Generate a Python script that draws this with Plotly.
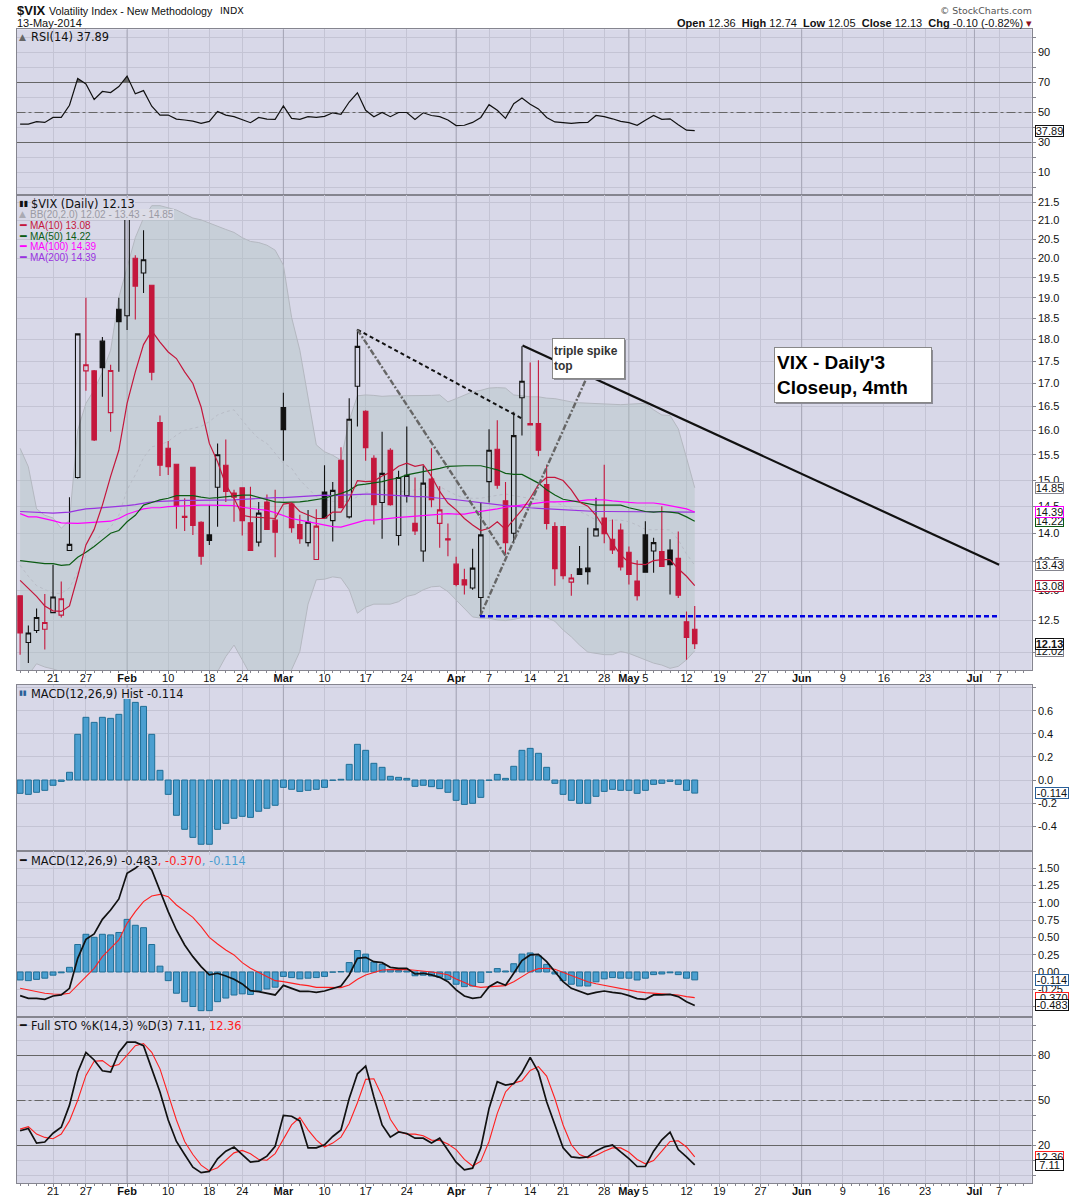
import math

import plotly.graph_objects as go

# Trading days Jan 14 2014 .. May 13 2014 are bars 0..82, later bars are empty chart space
x_ticks = [4, 8, 13, 18, 23, 27, 32, 37, 42, 47, 53, 57, 62, 66, 71, 74, 76, 81,
           85, 90, 95, 100, 105, 110, 115, 116, 119]
x_labels = ["21", "27", "<b>Feb</b>", "10", "18", "24", "<b>Mar</b>", "10", "17", "24",
            "<b>Apr</b>", "7", "14", "21", "28", "<b>May</b>", "5", "12",
            "19", "27", "<b>Jun</b>", "9", "16", "23", "", "<b>Jul</b>", "7"]
month_ticks = [13, 32, 53, 74, 95, 116]

opens = [12.91, 12.15, 12.34, 12.36, 12.63, 12.59, 13.69, 15.05, 17.28, 17.28,
         17.96, 16.37, 18.72, 18.56, 20.00, 19.62, 19.31, 16.16, 15.63, 15.31,
         14.31, 15.25, 14.20, 13.97, 14.86, 15.29, 14.75, 14.85, 14.19, 13.84,
         14.58, 14.24, 16.48, 14.54, 14.16, 13.83, 13.53, 14.77, 14.23, 15.39,
         14.30, 16.94, 16.40, 15.43, 14.57, 15.59, 13.96, 14.70, 14.18, 13.68,
         15.02, 14.18, 13.90, 13.45, 13.18, 13.04, 12.88, 14.97, 15.61, 14.60,
         14.00, 16.69, 16.14, 16.14, 14.91, 14.12, 14.12, 13.14, 13.37, 13.38,
         13.95, 14.28, 13.89, 14.06, 13.66, 13.16, 13.97, 13.68, 13.67, 13.70,
         13.55, 12.48, 12.36]
highs = [12.91, 12.42, 12.70, 12.94, 13.44, 13.15, 14.67, 18.13, 19.00, 17.30,
         18.06, 17.42, 19.00, 21.48, 20.08, 20.74, 19.31, 16.31, 15.78, 15.31,
         14.65, 15.25, 14.22, 14.52, 15.73, 15.81, 14.81, 14.85, 14.87, 14.58,
         14.72, 14.81, 16.80, 14.56, 14.34, 14.43, 14.44, 15.29, 14.96, 15.65,
         16.68, 18.24, 16.42, 15.49, 15.97, 15.63, 15.18, 16.08, 15.05, 15.28,
         15.63, 14.88, 14.18, 13.58, 13.37, 13.72, 14.57, 16.02, 16.21, 14.96,
         16.39, 17.84, 17.47, 17.52, 15.30, 14.20, 14.12, 13.28, 13.77, 14.10,
         14.66, 15.30, 14.25, 14.18, 13.76, 13.52, 14.22, 13.92, 14.50, 13.89,
         14.03, 12.65, 12.74]
lows = [11.96, 11.83, 12.30, 12.04, 12.63, 12.55, 13.69, 15.03, 16.84, 15.78,
        16.71, 15.97, 17.26, 18.22, 18.47, 19.12, 17.07, 15.08, 15.10, 14.08,
        14.04, 13.97, 13.44, 13.79, 14.12, 14.58, 14.21, 13.96, 13.69, 13.76,
        14.07, 13.57, 15.38, 14.01, 13.81, 13.76, 13.53, 14.28, 13.85, 14.47,
        14.27, 16.08, 15.38, 14.16, 13.90, 14.51, 13.78, 14.57, 13.97, 13.49,
        14.48, 13.74, 13.59, 13.07, 12.93, 13.01, 12.61, 14.57, 14.83, 13.61,
        13.82, 15.89, 16.11, 15.47, 14.07, 13.08, 13.19, 12.91, 13.27, 13.10,
        13.94, 13.82, 13.63, 13.34, 13.10, 12.83, 13.31, 13.30, 13.40, 12.93,
        12.87, 11.88, 12.05]
closes = [12.30, 12.30, 12.55, 12.47, 12.89, 12.86, 13.80, 18.13, 17.42, 15.80,
          17.35, 17.29, 18.42, 21.44, 19.29, 19.96, 17.25, 15.29, 15.26, 14.50,
          14.29, 14.14, 13.59, 13.87, 15.50, 14.78, 14.67, 14.23, 13.69, 14.37,
          14.07, 14.02, 16.01, 14.10, 13.90, 14.20, 14.13, 14.28, 14.80, 14.47,
          16.23, 17.84, 15.64, 14.53, 15.13, 14.53, 15.05, 15.09, 14.04, 14.94,
          14.62, 14.43, 13.88, 13.10, 13.09, 13.38, 13.97, 15.59, 14.90, 13.83,
          15.89, 17.05, 16.11, 15.59, 14.18, 13.37, 13.25, 13.21, 13.27, 13.32,
          14.08, 13.99, 13.70, 13.40, 13.27, 12.91, 13.31, 13.83, 13.41, 13.44,
          12.92, 12.23, 12.13]

ma10 = [13.17, 13.04, 12.90, 12.74, 12.66, 12.65, 12.74, 13.24, 13.79, 14.07,
        14.52, 15.07, 15.59, 16.57, 17.26, 17.88, 18.20, 17.94, 17.71, 17.56,
        17.26, 17.00, 16.49, 15.73, 15.36, 14.91, 14.65, 14.33, 14.30, 14.29,
        14.28, 14.27, 14.54, 14.56, 14.40, 14.33, 14.27, 14.27, 14.39, 14.39,
        14.63, 14.99, 14.97, 14.98, 15.08, 15.15, 15.27, 15.33, 15.27, 15.30,
        15.07, 14.78, 14.56, 14.43, 14.27, 14.15, 14.05, 14.09, 14.21, 14.07,
        14.24, 14.43, 14.65, 14.91, 15.05, 15.05, 14.99, 14.81, 14.58, 14.50,
        14.33, 14.09, 13.82, 13.61, 13.48, 13.45, 13.44, 13.51, 13.53, 13.53,
        13.37, 13.24, 13.08]
ma50 = [13.51, 13.49, 13.47, 13.46, 13.46, 13.43, 13.44, 13.57, 13.66, 13.76,
        13.88, 14.00, 14.05, 14.21, 14.33, 14.52, 14.57, 14.62, 14.65, 14.70,
        14.70, 14.70, 14.67, 14.65, 14.66, 14.68, 14.70, 14.71, 14.71, 14.67,
        14.63, 14.58, 14.57, 14.57, 14.58, 14.60, 14.62, 14.65, 14.70, 14.74,
        14.80, 14.90, 14.92, 14.94, 14.97, 15.01, 15.04, 15.10, 15.13, 15.16,
        15.20, 15.23, 15.27, 15.28, 15.28, 15.28, 15.28, 15.24, 15.20, 15.13,
        15.11, 15.11, 15.03, 14.94, 14.81, 14.71, 14.63, 14.60, 14.57, 14.54,
        14.52, 14.52, 14.52, 14.52, 14.47, 14.43, 14.40, 14.39, 14.40, 14.39,
        14.37, 14.30, 14.22]
ma100 = [14.36, 14.30, 14.30, 14.27, 14.23, 14.19, 14.18, 14.18, 14.19, 14.20,
         14.20, 14.22, 14.27, 14.35, 14.40, 14.45, 14.47, 14.47, 14.49, 14.50,
         14.50, 14.51, 14.52, 14.52, 14.52, 14.52, 14.51, 14.48, 14.46, 14.43,
         14.42, 14.38, 14.33, 14.27, 14.24, 14.21, 14.19, 14.16, 14.12, 14.11,
         14.15, 14.20, 14.24, 14.24, 14.26, 14.27, 14.29, 14.30, 14.31, 14.33,
         14.34, 14.35, 14.36, 14.35, 14.35, 14.38, 14.40, 14.42, 14.45, 14.48,
         14.50, 14.52, 14.54, 14.56, 14.58, 14.58, 14.58, 14.59, 14.60, 14.62,
         14.62, 14.62, 14.60, 14.58, 14.57, 14.56, 14.56, 14.56, 14.54, 14.51,
         14.48, 14.45, 14.39]
ma200 = [14.40, 14.39, 14.38, 14.37, 14.37, 14.38, 14.39, 14.42, 14.45, 14.46,
         14.47, 14.48, 14.50, 14.51, 14.53, 14.56, 14.58, 14.59, 14.60, 14.60,
         14.61, 14.61, 14.61, 14.61, 14.62, 14.62, 14.62, 14.63, 14.64, 14.65,
         14.66, 14.66, 14.66, 14.67, 14.68, 14.69, 14.70, 14.71, 14.70, 14.71,
         14.72, 14.72, 14.73, 14.73, 14.72, 14.70, 14.70, 14.69, 14.68, 14.68,
         14.66, 14.65, 14.64, 14.62, 14.60, 14.59, 14.57, 14.54, 14.52, 14.51,
         14.50, 14.48, 14.47, 14.46, 14.45, 14.45, 14.43, 14.42, 14.41, 14.41,
         14.40, 14.40, 14.40, 14.40, 14.40, 14.40, 14.40, 14.40, 14.40, 14.40,
         14.40, 14.39, 14.39]

bb_upper = [15.63, 15.26, 14.45, 14.33, 14.28, 14.09, 14.24, 16.00, 16.57, 16.86,
            17.25, 17.75, 19.01, 19.79, 20.54, 21.07, 21.41, 21.41, 21.35, 21.29,
            21.18, 21.07, 21.02, 20.94, 20.86, 20.76, 20.68, 20.54, 20.44, 20.41,
            20.34, 20.21, 19.82, 18.52, 17.75, 16.71, 15.70, 15.56, 15.49, 15.39,
            16.21, 16.73, 16.75, 16.74, 16.72, 16.73, 16.73, 16.74, 16.74, 16.74,
            16.74, 16.75, 16.60, 16.67, 16.74, 16.82, 16.85, 16.90, 16.91, 16.90,
            16.75, 16.73, 16.71, 16.71, 16.68, 16.67, 16.63, 16.60, 16.58, 16.57,
            16.56, 16.55, 16.55, 16.54, 16.55, 16.56, 16.57, 16.43, 16.32, 16.31,
            16.03, 15.44, 14.85]
bb_mid = [13.43, 13.24, 13.08, 13.01, 12.95, 12.95, 13.04, 13.32, 13.60, 13.82,
          14.00, 14.11, 14.33, 14.81, 15.10, 15.44, 15.66, 15.70, 15.77, 15.90,
          16.00, 16.04, 16.08, 16.18, 16.32, 16.39, 16.43, 16.21, 16.00, 15.83,
          15.73, 15.53, 15.33, 15.23, 15.00, 14.84, 14.68, 14.62, 14.59, 14.59,
          14.59, 14.68, 14.76, 14.78, 14.81, 14.80, 14.78, 14.78, 14.81, 14.84,
          14.89, 14.87, 14.79, 14.71, 14.65, 14.65, 14.65, 14.68, 14.71, 14.73,
          14.70, 14.67, 14.65, 14.62, 14.59, 14.57, 14.52, 14.46, 14.40, 14.33,
          14.24, 14.21, 14.24, 14.24, 14.21, 14.15, 14.07, 14.06, 14.07, 14.06,
          13.88, 13.63, 13.43]
# the lower band leaves the panel for much of Jan-Mar, values down there are estimates
bb_lower = [11.60, 11.65, 11.82, 11.77, 11.74, 11.70, 11.55, 11.20, 11.00, 10.90,
            10.80, 10.60, 10.30, 10.00, 9.90, 9.80, 9.80, 9.80, 9.90, 10.00,
            10.20, 10.50, 10.90, 11.30, 11.70, 11.93, 12.11, 11.88, 11.65, 11.50,
            11.40, 11.30, 11.40, 11.73, 12.01, 12.77, 13.18, 13.19, 13.23, 13.21,
            13.01, 12.62, 12.72, 12.77, 12.77, 12.77, 12.81, 12.90, 12.93, 13.01,
            13.06, 13.07, 12.98, 12.84, 12.70, 12.56, 12.54, 12.54, 12.51, 12.50,
            12.52, 12.55, 12.56, 12.57, 12.55, 12.49, 12.35, 12.24, 12.11, 12.00,
            11.98, 11.96, 11.96, 12.01, 11.98, 11.93, 11.88, 11.83, 11.80, 11.75,
            11.78, 11.88, 12.02]

rsi = [42.3, 42.3, 43.9, 43.4, 46.7, 46.7, 54.8, 72.7, 69.0, 58.7,
       64.0, 63.3, 67.3, 74.3, 62.5, 64.6, 54.2, 48.3, 48.3, 45.6,
       45.0, 44.3, 42.8, 44.1, 50.7, 48.3, 47.2, 45.4, 43.2, 46.7,
       45.6, 45.4, 54.4, 46.1, 45.4, 47.2, 46.7, 47.4, 49.8, 48.7,
       57.0, 63.1, 51.5, 47.2, 50.0, 47.2, 50.0, 50.0, 45.4, 49.8,
       48.0, 47.2, 45.0, 41.3, 41.5, 43.4, 46.7, 55.2, 51.5, 46.1,
       55.9, 59.6, 55.5, 52.4, 46.7, 43.7, 43.4, 42.8, 43.2, 43.4,
       48.0, 47.2, 45.8, 44.1, 43.2, 41.5, 44.8, 48.0, 45.4, 45.8,
       41.9, 38.2, 37.89]

macd_hist = [-0.116, -0.125, -0.107, -0.090, -0.046, -0.012, 0.067, 0.397, 0.545, 0.501,
             0.545, 0.536, 0.571, 0.760, 0.675, 0.640, 0.397, 0.084, -0.125, -0.307,
             -0.429, -0.499, -0.559, -0.559, -0.429, -0.377, -0.333, -0.316, -0.325, -0.272,
             -0.246, -0.220, -0.064, -0.081, -0.099, -0.090, -0.081, -0.064, -0.003, 0.006,
             0.136, 0.310, 0.258, 0.145, 0.110, 0.032, 0.023, 0.014, -0.055, -0.046,
             -0.058, -0.075, -0.107, -0.177, -0.212, -0.203, -0.151, -0.003, 0.049, 0.014,
             0.119, 0.258, 0.275, 0.232, 0.110, -0.029, -0.125, -0.177, -0.203, -0.203,
             -0.142, -0.099, -0.081, -0.090, -0.090, -0.116, -0.090, -0.038, -0.029, -0.012,
             -0.038, -0.090, -0.114]
macd_line = [-0.342, -0.381, -0.381, -0.395, -0.347, -0.332, -0.236, 0.197, 0.472, 0.549,
             0.761, 0.896, 1.055, 1.426, 1.498, 1.600, 1.474, 1.161, 0.872, 0.607,
             0.390, 0.222, 0.077, -0.043, -0.019, -0.058, -0.106, -0.173, -0.270, -0.284,
             -0.308, -0.332, -0.193, -0.236, -0.279, -0.279, -0.294, -0.275, -0.236, -0.202,
             -0.043, 0.197, 0.212, 0.149, 0.135, 0.067, 0.053, 0.053, -0.029, -0.019,
             -0.043, -0.077, -0.140, -0.260, -0.347, -0.381, -0.366, -0.212, -0.145, -0.193,
             -0.019, 0.164, 0.246, 0.255, 0.149, 0.005, -0.140, -0.236, -0.284, -0.323,
             -0.294, -0.275, -0.294, -0.308, -0.342, -0.385, -0.395, -0.332, -0.332, -0.323,
             -0.356, -0.429, -0.483]
macd_signal = [-0.236, -0.260, -0.284, -0.308, -0.318, -0.323, -0.308, -0.188, -0.067, 0.053,
               0.222, 0.342, 0.462, 0.703, 0.872, 1.016, 1.098, 1.122, 1.089, 0.968,
               0.872, 0.790, 0.655, 0.501, 0.405, 0.318, 0.246, 0.135, 0.053, -0.010,
               -0.067, -0.125, -0.140, -0.164, -0.183, -0.197, -0.222, -0.222, -0.226, -0.226,
               -0.188, -0.106, -0.043, -0.010, 0.029, 0.034, 0.039, 0.034, 0.024, 0.014,
               0.000, -0.019, -0.039, -0.101, -0.154, -0.202, -0.222, -0.212, -0.202, -0.197,
               -0.140, -0.067, 0.005, 0.048, 0.053, 0.039, -0.005, -0.058, -0.101, -0.140,
               -0.169, -0.193, -0.217, -0.241, -0.260, -0.284, -0.299, -0.308, -0.318, -0.323,
               -0.332, -0.356, -0.370]

sto_k = [29.8, 31.3, 21.6, 22.3, 28.2, 32.2, 46.9, 68.9, 82.1, 77.0,
         69.8, 68.9, 82.1, 88.9, 88.9, 86.5, 71.1, 55.7, 37.0, 22.7,
         14.0, 5.6, 1.9, 2.7, 11.1, 16.2, 19.0, 14.0, 8.9, 9.6,
         12.9, 19.5, 40.1, 39.5, 36.4, 18.4, 18.4, 20.5, 26.0, 30.4,
         51.3, 67.8, 72.9, 52.4, 33.7, 25.6, 29.0, 28.0, 24.9, 24.9,
         21.6, 24.9, 17.3, 8.9, 3.8, 4.9, 18.4, 44.7, 62.5, 60.3,
         61.2, 68.5, 78.8, 68.9, 49.1, 33.7, 18.4, 12.4, 11.8, 12.4,
         16.4, 19.0, 20.3, 15.7, 11.3, 6.0, 6.0, 16.2, 23.8, 28.9,
         17.3, 12.4, 7.11]
sto_d = [30.9, 32.6, 27.6, 25.4, 24.5, 27.6, 36.4, 50.2, 66.7, 76.2,
         76.6, 72.6, 74.0, 79.9, 86.5, 88.0, 82.1, 71.1, 54.6, 37.0,
         22.7, 14.0, 6.9, 3.0, 5.2, 10.2, 15.1, 16.7, 14.5, 10.7,
         10.2, 14.6, 24.3, 33.7, 38.8, 30.4, 23.8, 19.0, 21.6, 25.6,
         34.8, 48.5, 64.1, 64.5, 52.9, 37.5, 29.3, 27.6, 27.6, 26.5,
         23.6, 23.4, 21.0, 17.3, 10.7, 6.3, 9.6, 22.7, 41.4, 55.7,
         61.6, 63.2, 70.0, 72.6, 66.3, 51.3, 33.7, 20.5, 14.0, 11.8,
         13.3, 16.2, 18.4, 18.4, 15.5, 10.7, 7.8, 10.0, 16.2, 22.7,
         23.2, 19.0, 12.36]

# hand drawn annotations on the price panel: (bar, value)
downtrend_dashed = [(41, 18.23), (61.07, 16.24)]
abc_down = [(41, 18.23), (59, 13.60)]
abc_up = [(55.9, 12.57), (69.04, 17.20)]
resistance = [(61.07, 17.86), (119, 13.44)]
support = [(55.9, 12.57), (119, 12.57)]

BG = "#d8d8e8"
GRID = "#c4c4d4"
MONTH_GRID = "#a6a6b6"
BORDER = "#85858f"
CANDLE_RED = "#c4173c"
BAR_BLUE = "#4b9fd0"
BAR_EDGE = "#1f6e96"
TICK_FONT = dict(family="Liberation Sans", size=11, color="#111111")

W, H = 1075, 1200
LEFT, RIGHT = 16.5, 1031.7
X_RANGE = [-0.44, 122.96]
PRICE_RANGE = [11.72, 21.70]
bars = list(range(len(closes)))


def px(x):
    return x / W


def py(y):
    return 1 - y / H


def pair(points):
    return [p[0] for p in points], [p[1] for p in points]


def above_level(values, level):
    # x,y of the part of a line above a level, with the crossing points added
    xs, ys = [], []
    for i, v in enumerate(values):
        if i > 0 and (values[i - 1] - level) * (v - level) < 0:
            xs.append(i - 1 + (level - values[i - 1]) / (v - values[i - 1]))
            ys.append(level)
        xs.append(i)
        ys.append(max(v, level))
    return xs, ys


fig = go.Figure()

# axis names per panel: rsi, price, hist, macd, sto
panels = {
    "rsi": dict(n="", top=29.3, bottom=195.3, rng=[-5.2, 105.47]),
    "price": dict(n="2", top=195.3, bottom=670.3, rng=[math.log10(PRICE_RANGE[0]), math.log10(PRICE_RANGE[1])]),
    "hist": dict(n="3", top=685.0, bottom=851.3, rng=[-0.62, 0.826]),
    "macd": dict(n="4", top=851.3, bottom=1017.3, rng=[-0.655, 1.744]),
    "sto": dict(n="5", top=1017.3, bottom=1183.3, rng=[-5.2, 105.47]),
}
y_ticks = {
    "rsi": ([10, 20, 30, 40, 50, 60, 70, 80, 90, 0, 100],
            ["10", "", "30", "", "50", "", "70", "", "90", "", ""]),
    "price": ([12 + 0.5 * k for k in range(20)], ["%.1f" % (12 + 0.5 * k) for k in range(20)]),
    "hist": ([-0.4, -0.2, 0, 0.2, 0.4, 0.6, 0.8], ["-0.4", "-0.2", "0.0", "0.2", "0.4", "0.6", ""]),
    "macd": ([-0.5, -0.25, 0, 0.25, 0.5, 0.75, 1, 1.25, 1.5],
             ["", "-0.25", "0.00", "0.25", "0.50", "0.75", "1.00", "1.25", "1.50"]),
    "sto": ([0, 10, 20, 30, 40, 50, 60, 70, 80, 90, 100],
            ["", "", "20", "", "", "50", "", "", "80", "", ""]),
}
layout_axes = {}
for name, p in panels.items():
    n = p["n"]
    labelled = name in ("price", "sto")
    axis_x = dict(
        domain=[px(LEFT), px(RIGHT)], range=X_RANGE, anchor="y" + n, tickmode="array",
        tickvals=x_ticks, ticktext=x_labels if labelled else [""] * len(x_ticks),
        showgrid=True, gridcolor=GRID, gridwidth=1, zeroline=False,
        showline=True, linecolor=BORDER, linewidth=1, mirror=True,
        ticks="outside" if labelled else "", ticklen=3, tickcolor=BORDER,
        tickfont=dict(family="Liberation Sans", size=11, color="#111111"), tickangle=0,
        ticklabelstandoff=-6 if labelled else 0, rangeslider=dict(visible=False),
    )
    if labelled:
        axis_x["minor"] = dict(tickmode="array", tickvals=list(range(0, 123)), ticks="outside",
                               ticklen=2, tickcolor=BORDER, showgrid=False)
    tv, tt = y_ticks[name]
    axis_y = dict(
        domain=[py(p["bottom"]), py(p["top"])], range=p["rng"], anchor="x" + n, side="right",
        type="log" if name == "price" else "linear", tickmode="array", tickvals=tv, ticktext=tt,
        showgrid=True, gridcolor=GRID, gridwidth=1, zeroline=False,
        showline=True, linecolor=BORDER, linewidth=1, mirror=True,
        ticks="outside", ticklen=3, tickcolor=BORDER, tickfont=TICK_FONT,
    )
    layout_axes["xaxis" + n] = axis_x
    layout_axes["yaxis" + n] = axis_y

# candles and lines sit on an overlay of the price axis so that they draw over the band fill
layout_axes["yaxis6"] = dict(
    domain=layout_axes["yaxis2"]["domain"], range=panels["price"]["rng"], type="log",
    overlaying="y2", anchor="x2", side="right", visible=False, showgrid=False,
)
fig.update_layout(**layout_axes)


def line(x, y, xa, ya, color, width=1, dash=None):
    fig.add_trace(go.Scatter(x=x, y=y, mode="lines", xaxis=xa, yaxis=ya, showlegend=False,
                             hoverinfo="skip", line=dict(color=color, width=width, dash=dash)))


# RSI
zone_x, zone_y = above_level(rsi, 70)
line(zone_x, [70] * len(zone_x), "x", "y", "rgba(0,0,0,0)")
fig.add_trace(go.Scatter(x=zone_x, y=zone_y, mode="none", fill="tonexty", fillcolor="#666666",
                         xaxis="x", yaxis="y", showlegend=False, hoverinfo="skip"))
line(bars, rsi, "x", "y", "#111111", 1.2)

# Bollinger band on the base price axis
line(bars, bb_upper, "x2", "y2", "#b4b8c0")
fig.add_trace(go.Scatter(x=bars, y=bb_lower, mode="lines", fill="tonexty",
                         fillcolor="rgba(176,196,192,0.4)", line=dict(color="#b4b8c0", width=1),
                         xaxis="x2", yaxis="y2", showlegend=False, hoverinfo="skip"))
line(bars, bb_mid, "x2", "y2", "#b8bcc6", 1, "dot")

# candles: hollow when close is above open, red when close is below the prior close
styles = {}
for i in bars:
    hollow = closes[i] >= opens[i]
    red = i == 0 or closes[i] < closes[i - 1]
    styles.setdefault((hollow, red), []).append(i)
for (hollow, red), members in styles.items():
    color = CANDLE_RED if red else "#111111"
    side = dict(line=dict(color=color, width=1.1), fillcolor="rgba(0,0,0,0)" if hollow else color)
    fig.add_trace(go.Candlestick(
        x=bars, xaxis="x2", yaxis="y6", showlegend=False, hoverinfo="skip",
        open=[opens[i] if i in members else None for i in bars],
        high=[highs[i] if i in members else None for i in bars],
        low=[lows[i] if i in members else None for i in bars],
        close=[closes[i] if i in members else None for i in bars],
        increasing=side, decreasing=side, whiskerwidth=0,
    ))

line(bars, ma200, "x2", "y6", "#9932e0", 1.2)
line(bars, ma100, "x2", "y6", "#ff00ff", 1.2)
line(bars, ma50, "x2", "y6", "#0c5c14", 1.2)
line(bars, ma10, "x2", "y6", CANDLE_RED, 1.2)

line(*pair(downtrend_dashed), "x2", "y6", "#111111", 2, "4px,3px")
line(*pair(abc_down), "x2", "y6", "#666666", 2.4, "6px,2px,2px,2px")
line(*pair(abc_up), "x2", "y6", "#666666", 2.4, "6px,2px,2px,2px")
line(*pair(resistance), "x2", "y6", "#111111", 2.2)
line(*pair(support), "x2", "y6", "#0000e0", 2.6, "5px,3px")

# MACD histogram panels
for xa, ya in (("x3", "y3"), ("x4", "y4")):
    fig.add_trace(go.Bar(x=bars, y=macd_hist, xaxis=xa, yaxis=ya, showlegend=False, hoverinfo="skip",
                         marker=dict(color=BAR_BLUE, line=dict(color=BAR_EDGE, width=1))))
line(bars, macd_signal, "x4", "y4", "#ff2020", 1.1)
line(bars, macd_line, "x4", "y4", "#111111", 1.7)

# Stochastics
line(bars, sto_d, "x5", "y5", "#ff2020", 1.1)
line(bars, sto_k, "x5", "y5", "#111111", 1.7)

# month grid lines and reference levels, between the axis grid and the traces
shapes = []
for name, p in panels.items():
    y0, y1 = PRICE_RANGE if name == "price" else p["rng"]
    for m in month_ticks:
        shapes.append(dict(type="line", xref="x" + p["n"], yref="y" + p["n"], x0=m, x1=m, y0=y0, y1=y1,
                           layer="between", line=dict(color=MONTH_GRID, width=1)))
for n, level, style in (("", 70, "solid"), ("", 30, "solid"), ("", 50, "dashdot"),
                        ("5", 80, "solid"), ("5", 20, "solid"), ("5", 50, "dashdot")):
    shapes.append(dict(type="line", xref="x" + n, yref="y" + n, x0=X_RANGE[0], x1=X_RANGE[1],
                       y0=level, y1=level, layer="between",
                       line=dict(color="#666666", width=1, dash=style)))

# drop shadows of the two note boxes
for x0, y0, x1, y1 in ((554, 340, 626, 380), (776, 350, 933, 404)):
    shapes.append(dict(type="rect", xref="paper", yref="paper", x0=px(x0), x1=px(x1), y0=py(y1), y1=py(y0),
                       fillcolor="#8c8c96", line=dict(width=0), layer="above"))

annotations = []


def text(x, y, s, size=11, family="Liberation Sans", color="#111111", anchor="left", bg=None):
    annotations.append(dict(x=px(x), y=py(y), xref="paper", yref="paper", text=s, showarrow=False,
                            xanchor=anchor, yanchor="middle", align=anchor, borderpad=0, borderwidth=0,
                            bgcolor=bg, height=11 if bg else None,
                            font=dict(family=family, size=size, color=color)))


def tag(panel, value, label, color, width=27, bold=False):
    n = "6" if panel == "price" else panels[panel]["n"]
    y = math.log10(value) if panel == "price" else value
    annotations.append(dict(x=px(1035), y=y, xref="paper", yref="y" + n, xanchor="left", yanchor="middle",
                            text="<b>%s</b>" % label if bold else label, showarrow=False, bgcolor="white",
                            bordercolor=color, borderwidth=1, borderpad=0, width=width, height=10,
                            align="center", font=dict(family="Liberation Sans", size=11, color="#111111")))
    fig.add_trace(go.Scatter(x=[X_RANGE[1] + 0.25], y=[value], mode="markers", cliponaxis=False,
                             xaxis="x2" if panel == "price" else "x" + panels[panel]["n"], yaxis="y" + n,
                             marker=dict(symbol="triangle-left", size=6, color="white",
                                         line=dict(color=color, width=1)),
                             showlegend=False, hoverinfo="skip"))


# header
text(16.5, 10.5, "<b>$VIX</b>", size=13)
text(49, 10.5, "Volatility Index - New Methodology", size=10.7)
text(219.5, 10.5, "INDX", size=9.5, family="DejaVu Sans")
text(16.5, 23.5, "13-May-2014", size=11)
text(1031.5, 10.5, "© StockCharts.com", size=9.4, family="DejaVu Sans", color="#555555", anchor="right")
text(1031.5, 23.5, "<b>Open</b> 12.36  <b>High</b> 12.74  <b>Low</b> 12.05  <b>Close</b> 12.13  "
                   "<b>Chg</b> -0.10 (-0.82%) <span style='color:#8c1020'>▾</span>", size=11, anchor="right")

# panel legends
LEGEND = "DejaVu Sans"
LEGEND_SIZE = 11.4
text(19, 37, "<span style='color:#666666'>▲</span>", size=9, family=LEGEND)
text(31, 37, "RSI(14) 37.89", size=LEGEND_SIZE, family=LEGEND)
text(19, 203, "▮▮", size=8, family=LEGEND)
text(31, 203, "$VIX (Daily) 12.13", size=LEGEND_SIZE, family=LEGEND, bg=BG)
text(19, 214, "<span style='color:#aaaab4'>▲</span>", size=9, family=LEGEND)
text(29.5, 214, "BB(20,2.0) 12.02 - 13.43 - 14.85", size=10, color="#9a9aa4", bg="#dcdce6")
for row_y, label, color in ((225, "MA(10) 13.08", CANDLE_RED), (236, "MA(50) 14.22", "#0c5c14"),
                            (247, "MA(100) 14.39", "#ff00ff"), (258, "MA(200) 14.39", "#9932e0")):
    text(18.5, row_y, "━", size=11, family=LEGEND, color=color)
    text(29.5, row_y, label, size=10, color=color)
text(19, 693, "<span style='color:#2a6099'>▮▮</span>", size=7, family=LEGEND)
text(31, 693, "MACD(12,26,9) Hist -0.114", size=LEGEND_SIZE, family=LEGEND, bg=BG)
text(18.5, 860, "━", size=11, family=LEGEND)
text(31, 860, "MACD(12,26,9) -0.483<span style='color:#ff2020'>, -0.370</span>"
              "<span style='color:#4b9fd0'>, -0.114</span>", size=LEGEND_SIZE, family=LEGEND, bg=BG)
text(18.5, 1025.5, "━", size=11, family=LEGEND)
text(31, 1025.5, "Full STO %K(14,3) %D(3) 7.11, <span style='color:#ff2020'>12.36</span>",
     size=LEGEND_SIZE, family=LEGEND, bg=BG)

# note boxes
annotations.append(dict(x=px(552), y=py(337.5), xref="paper", yref="paper", xanchor="left", yanchor="top",
                        text="<b>triple spike<br>top</b>", showarrow=False, align="left", width=69, height=37,
                        bgcolor="white", bordercolor="#888888", borderwidth=1, borderpad=1,
                        font=dict(family="Liberation Sans", size=12, color="#333333")))
annotations.append(dict(x=px(774), y=py(347.5), xref="paper", yref="paper", xanchor="left", yanchor="top",
                        text="<b>VIX - Daily'3<br>Closeup, 4mth</b>", showarrow=False, align="left",
                        width=152, height=50, bgcolor="white", bordercolor="#888888", borderwidth=1,
                        borderpad=2, font=dict(family="Liberation Sans", size=19, color="#000000")))

# value tags on the right axis
tag("rsi", 37.89, "37.89", "#111111")
tag("price", 14.85, "14.85", "#85858f")
tag("price", 14.22, "14.22", "#0c5c14")
tag("price", 14.39, "14.39", "#ff00ff")
tag("price", 13.43, "13.43", "#85858f")
tag("price", 13.08, "13.08", CANDLE_RED)
tag("price", 12.02, "12.02", "#85858f")
tag("price", 12.13, "12.13", "#111111", bold=True)
tag("hist", -0.114, "-0.114", "#2a6099", width=32)
tag("macd", -0.114, "-0.114", "#2a6099", width=32)
tag("macd", -0.370, "-0.370", "#ff2020", width=32)
tag("macd", -0.483, "-0.483", "#111111", width=32)
tag("sto", 12.36, "12.36", "#ff2020")
tag("sto", 7.11, "7.11", "#111111")

fig.update_layout(
    width=W, height=H, autosize=False, margin=dict(l=0, r=0, t=0, b=0, pad=0),
    paper_bgcolor="white", plot_bgcolor=BG, showlegend=False,
    boxmode="overlay", boxgap=0.22, barmode="overlay", bargap=0.28,
    shapes=shapes, annotations=annotations, hovermode=False,
    font=dict(family="Liberation Sans", size=11, color="#111111"),
)

fig.write_html("out.html", config=dict(displayModeBar=False),
               post_script="document.body.style.margin='0';")
